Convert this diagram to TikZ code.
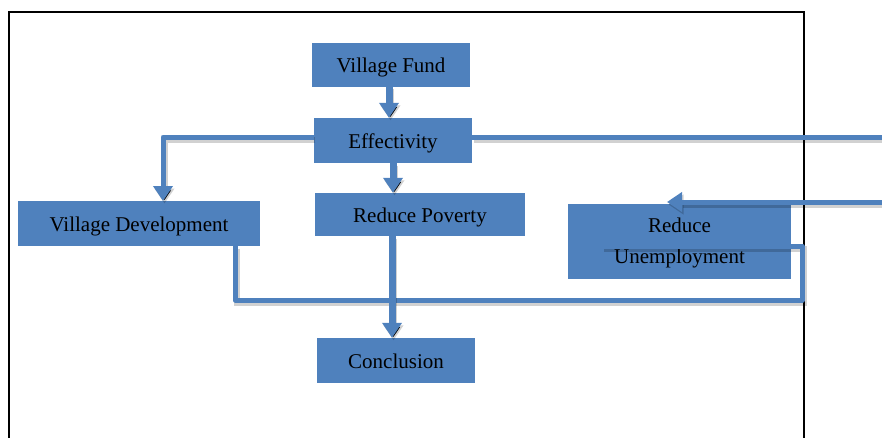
\documentclass[tikz,border=0pt]{standalone}
\usepackage{fontspec}
\setmainfont{Liberation Serif}
\usetikzlibrary{arrows.meta}
\definecolor{boxblue}{HTML}{4F81BD}
\begin{document}
\begin{tikzpicture}[x=1pt,y=-1pt,
  box/.style={fill=boxblue,inner sep=0pt,align=center,
    font=\fontsize{21}{31}\selectfont,text=black},
  onebox/.style={box,text height=18pt,text depth=1.5pt},
  conn/.style={draw=boxblue,line width=5pt,line join=round,
    preaction={draw=black,draw opacity=0.18,line width=6pt,
      transform canvas={shift={(1.5pt,-2.5pt)}}}},
  vconn/.style={conn,line width=7pt},
  tip/.style={-{Triangle[width=19pt,length=15pt]}}
]
\useasboundingbox (0,0) rectangle (882,437);

% outer frame, open at the bottom
\draw[line width=2pt] (9,440) -- (9,12) -- (804,12) -- (804,440);

% boxes
\node[onebox,minimum width=158pt,minimum height=44pt] (vf) at (391,64.5) {Village Fund};
\node[onebox,minimum width=158pt,minimum height=45pt] (eff) at (393,140.5) {Effectivity};
\node[onebox,minimum width=210pt,minimum height=43pt] (rp) at (420,214.5) {Reduce Poverty};
\node[onebox,minimum width=242pt,minimum height=45pt] (vd) at (139,223.5) {Village Development};
\node[box,minimum width=223pt,minimum height=75pt,inner ysep=2pt]
  (ru) at (679.5,241.5) {\rule{0pt}{17pt}Reduce\\Unemployment};
\node[onebox,minimum width=158pt,minimum height=45pt] (con) at (396,360.5) {Conclusion};

% free ends and bends of the connectors
\coordinate (vdin) at (163,201);
\coordinate (effout) at (882,137);
\coordinate (ruin) at (882,202);
\coordinate (rutip) at (667,202);
\coordinate (vdout) at (235,246);
\coordinate (lc) at (802,300);
\coordinate (le) at (602,246);

% connectors
\draw[vconn,tip] ([xshift=-2pt]vf.south) -- ([xshift=-2pt]vf.south |- eff.north);
\draw[vconn,tip] (eff.south) -- (eff.south |- rp.north);
\draw[conn,tip] (eff.west |- effout) -| (vdin);
\draw[conn] (eff.east |- effout) -- (effout);
\draw[conn,tip] (ruin) -- (rutip);
\draw[conn] (vdout) |- (lc) |- (le);
\draw[vconn,tip] ([xshift=-4pt]con.north |- rp.south) -- ([xshift=-4pt]con.north);
\end{tikzpicture}
\end{document}
